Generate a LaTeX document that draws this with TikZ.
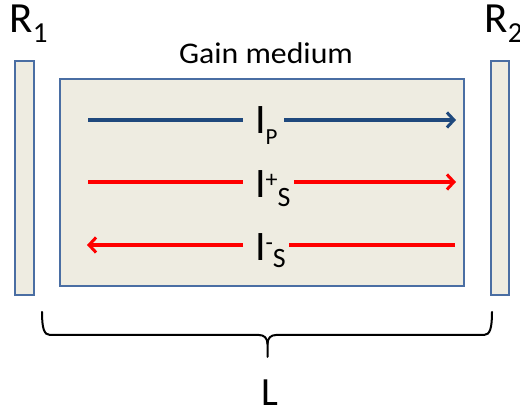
\documentclass[tikz,border=0pt]{standalone}
\usepackage{fontspec}
\setmainfont{Carlito}
\usetikzlibrary{arrows.meta}
\definecolor{boxfill}{HTML}{EEECE1}
\definecolor{boxline}{HTML}{4A6EA3}
\definecolor{pumpblue}{HTML}{1F497D}
\definecolor{sigred}{HTML}{FF0000}
\tikzset{
  panel/.style={draw=boxline, fill=boxfill, line width=1.4pt},
  beam/.style={line width=3.2pt},
  beamtip/.style={-{Straight Barb[length=7pt,width=15pt,line width=3pt]}},
  lbl/.style={inner sep=0pt, outer sep=0pt, anchor=base west},
}
\newcommand{\fs}[1]{\fontsize{#1}{#1}\selectfont}
\begin{document}
\begin{tikzpicture}[x=1pt,y=1pt]
\useasboundingbox (0,0) rectangle (520,414);
% mirrors and gain medium
\node[panel, minimum width=19pt, minimum height=234pt, inner sep=0pt] (m1) at (24.5,236) {};
\node[panel, minimum width=18pt, minimum height=234pt, inner sep=0pt] (m2) at (500,236) {};
\node[panel, minimum width=404pt, minimum height=207pt, inner sep=0pt] (gain) at (262,231.5) {};
% labels
\node[lbl] (r1) at (9.5,381) {\fs{43}R\raisebox{-10pt}{\fs{29}1}};
\node[lbl] (r2) at (484.5,381) {\fs{43}R\raisebox{-10pt}{\fs{29}2}};
\node[inner sep=0pt, anchor=base, xscale=1.06] (gm) at (266,350.7) {\fs{30}Gain medium};
\node[inner sep=0pt, anchor=base] (len) at (270,8) {\fs{40}L};
\node[lbl] (ip) at (255,280) {\fs{42}I\raisebox{-11pt}{\fs{23}P}};
\node[lbl] (isp) at (255,216.7) {\fs{42}I\raisebox{10pt}{\fs{24}+}\raisebox{-9.4pt}{\fs{28}S}};
\node[lbl] (ism) at (255,153.7) {\fs{42}I\raisebox{10pt}{\fs{24}-}\raisebox{-7pt}{\fs{28}S}};
% beam ends
\coordinate (pa) at (88,294);
\coordinate (pb) at (243,294);
\coordinate (pc) at (284,294);
\coordinate (pd) at (456,294);
\coordinate (sa) at (88,232);
\coordinate (sb) at (243,232);
\coordinate (sc) at (294,232);
\coordinate (sd) at (456,232);
\coordinate (ta) at (87,169);
\coordinate (tb) at (243,169);
\coordinate (tc) at (289,169);
\coordinate (td) at (455,169);
\draw[beam, pumpblue] (pa) -- (pb);
\draw[beam, pumpblue, beamtip] (pc) -- (pd);
\draw[beam, sigred] (sa) -- (sb);
\draw[beam, sigred, beamtip] (sc) -- (sd);
\draw[beam, sigred, beamtip] (tb) -- (ta);
\draw[beam, sigred] (tc) -- (td);
% brace
\coordinate (bl) at (42,102);
\coordinate (br) at (492,102);
\coordinate (bt) at (267.5,57);
\draw[line width=2pt, line cap=round]
  (bl) .. controls (42,86) and (44,79) .. (50,79) -- (259,79)
  .. controls (264,79) and (267.5,76) .. (267.5,70) -- (bt);
\draw[line width=2pt, line cap=round]
  (br) .. controls (492,86) and (490,79) .. (484,79) -- (276,79)
  .. controls (271,79) and (267.5,76) .. (267.5,70);
\end{tikzpicture}
\end{document}
